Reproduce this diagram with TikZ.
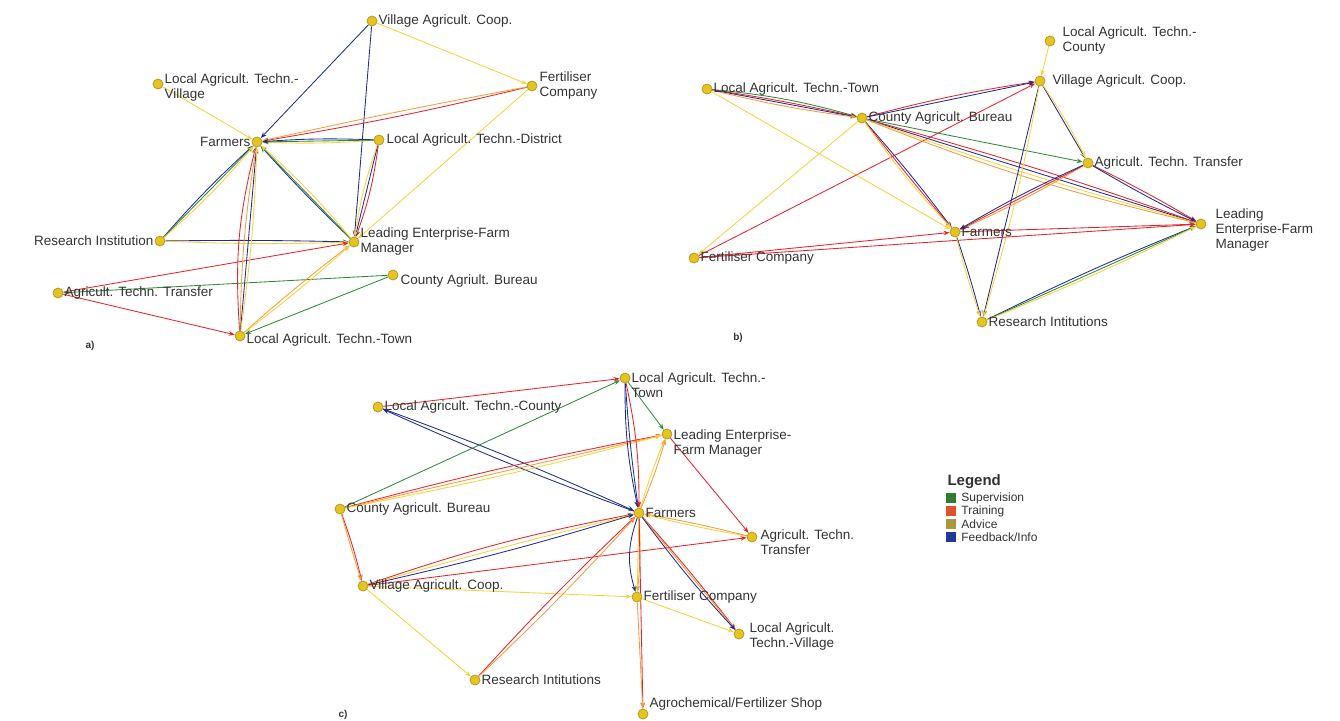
\documentclass[tikz,border=0pt]{standalone}
\usepackage{fontspec}
\setmainfont{Liberation Sans}
\usetikzlibrary{positioning,arrows.meta}
\definecolor{supc}{HTML}{2E8B3C}
\definecolor{trnc}{HTML}{E8222A}
\definecolor{advc}{HTML}{F6D23A}
\definecolor{fbkc}{HTML}{1E2C8C}
\definecolor{orgc}{HTML}{F39C3A}
\definecolor{dotfill}{HTML}{E6C31E}
\definecolor{dotline}{HTML}{B39B2A}
\definecolor{txt}{HTML}{333333}
\definecolor{lsup}{HTML}{2E7D32}
\definecolor{ltrn}{HTML}{E0522B}
\definecolor{ladv}{HTML}{A89A3C}
\definecolor{lfbk}{HTML}{1E3A99}
\pgfdeclarelayer{edges}
\pgfsetlayers{edges,main}
\tikzset{
  dot/.style={circle,fill=dotfill,draw=dotline,line width=0.8pt,inner sep=0pt,minimum size=10pt},
  lbl/.style={font=\fontsize{13.5}{15}\selectfont,text=txt,inner sep=1pt,align=left},
  tag/.style={font=\bfseries\fontsize{10}{12}\selectfont,text=txt},
  net/.style={line width=0.85pt,-{Stealth[length=6pt,width=4.5pt]}},
  sup/.style={draw=supc},
  trn/.style={draw=trnc},
  adv/.style={draw=advc},
  fbk/.style={draw=fbkc},
  org/.style={draw=orgc},
  keybox/.style={minimum size=10pt,inner sep=0pt},
  keytxt/.style={font=\fontsize{12}{13}\selectfont,text=txt,inner sep=1pt},
}
\begin{document}
\begin{tikzpicture}[x=1pt,y=-1pt]
  \useasboundingbox (0,0) rectangle (1340,720);
  % a)
  \begin{scope}
    \node[dot] (aVC) at (372,21) {};
    \node[dot] (aLV) at (158,84) {};
    \node[dot] (aFC) at (532,86) {};
    \node[dot] (aFa) at (257,142) {};
    \node[dot] (aLD) at (379,140) {};
    \node[dot] (aRI) at (160,241) {};
    \node[dot] (aLE) at (354,242) {};
    \node[dot] (aCB) at (393,275) {};
    \node[dot] (aAT) at (58,293) {};
    \node[dot] (aLT) at (240,336) {};
    \node[lbl,right=0pt of aVC] (aVCt) {Village Agricult. Coop.};
    \node[lbl,right=0pt of aLV,yshift=-4pt] (aLVt) {Local Agricult. Techn.-\\Village};
    \node[lbl,right=1pt of aFC] (aFCt) {Fertiliser\\Company};
    \node[lbl,left=0pt of aFa] (aFat) {Farmers};
    \node[lbl,right=1pt of aLD] (aLDt) {Local Agricult. Techn.-District};
    \node[lbl,left=0pt of aRI] (aRIt) {Research Institution};
    \node[lbl,right=0pt of aLE] (aLEt) {Leading Enterprise-Farm\\Manager};
    \node[lbl,right=1pt of aCB,yshift=-6pt] (aCBt) {County Agriult. Bureau};
    \node[lbl,right=0pt of aAT] (aATt) {Agricult. Techn. Transfer};
    \node[lbl,right=0pt of aLT,yshift=-4pt] (aLTt) {Local Agricult. Techn.-Town};
    \node[tag] (aTag) at (90,346) {a)};
    \begin{pgfonlayer}{edges}
      \foreach \s/\t/\k/\b in {aVC/aFa/fbk/0, aVC/aLE/fbk/0, aVC/aFC/adv/0,
          aLV/aFa/adv/0, aFC/aFa/trn/2, aFC/aFa/org/-1, aFC/aLE/adv/0,
          aLD/aFa/adv/3, aLD/aFa/sup/0, aLD/aFa/fbk/-3,
          aLD/aLE/trn/6, aLD/aLE/fbk/0, aLD/aLE/adv/-5,
          aLE/aFa/fbk/2, aLE/aFa/sup/0, aLE/aFa/adv/-4,
          aRI/aFa/fbk/3, aRI/aFa/sup/0, aRI/aFa/adv/-4,
          aRI/aLE/fbk/1, aRI/aLE/adv/-2,
          aAT/aLE/trn/0, aAT/aLT/trn/0, aCB/aAT/sup/0, aCB/aLT/sup/0,
          aLT/aFa/trn/9, aLT/aFa/org/4, aLT/aFa/fbk/0, aLT/aFa/adv/-3,
          aLT/aLE/org/2, aLT/aLE/adv/-2}
        \draw[net,\k] (\s) to[bend left=\b] (\t);
    \end{pgfonlayer}
  \end{scope}
  % b)
  \begin{scope}
    \node[dot] (bLC) at (1050,41) {};
    \node[dot] (bVC) at (1040,81) {};
    \node[dot] (bLT) at (707,89) {};
    \node[dot] (bCB) at (862,118) {};
    \node[dot] (bAT) at (1088,163) {};
    \node[dot] (bLE) at (1201,224) {};
    \node[dot] (bFa) at (955,232) {};
    \node[dot] (bFC) at (694,258) {};
    \node[dot] (bRI) at (982,322) {};
    \node[lbl,right=6pt of bLC] (bLCt) {Local Agricult. Techn.-\\County};
    \node[lbl,right=6pt of bVC] (bVCt) {Village Agricult. Coop.};
    \node[lbl,right=0pt of bLT] (bLTt) {Local Agricult. Techn.-Town};
    \node[lbl,right=0pt of bCB] (bCBt) {County Agricult. Bureau};
    \node[lbl,right=0pt of bAT] (bATt) {Agricult. Techn. Transfer};
    \node[lbl,right=8pt of bLE,yshift=-6pt] (bLEt) {Leading\\Enterprise-Farm\\Manager};
    \node[lbl,right=0pt of bFa] (bFat) {Farmers};
    \node[lbl,right=0pt of bFC] (bFCt) {Fertiliser Company};
    \node[lbl,right=0pt of bRI] (bRIt) {Research Intitutions};
    \node[tag] (bTag) at (738,338) {b)};
    \begin{pgfonlayer}{edges}
      \foreach \s/\t/\k/\b in {bLC/bVC/adv/0,
          bLT/bCB/sup/5, bLT/bCB/trn/2, bLT/bCB/fbk/0, bLT/bCB/org/-3,
          bLT/bFa/adv/0, bCB/bFC/adv/0, bFC/bVC/trn/0,
          bCB/bVC/trn/3, bCB/bVC/fbk/0,
          bCB/bFa/fbk/2, bCB/bFa/trn/-1, bCB/bFa/adv/-4, bCB/bAT/sup/0,
          bCB/bLE/trn/2, bCB/bLE/fbk/0, bCB/bLE/adv/-2, bCB/bLE/org/-4,
          bVC/bRI/fbk/0, bVC/bRI/adv/3, bVC/bAT/fbk/0, bVC/bAT/adv/4,
          bAT/bFa/org/3, bAT/bFa/trn/0, bAT/bFa/fbk/-3,
          bAT/bLE/trn/2, bAT/bLE/fbk/-2,
          bFa/bLE/trn/0, bFC/bFa/trn/0, bFC/bLE/trn/0,
          bFa/bRI/fbk/2, bFa/bRI/adv/-2,
          bRI/bLE/fbk/2, bRI/bLE/sup/0, bRI/bLE/adv/-2}
        \draw[net,\k] (\s) to[bend left=\b] (\t);
    \end{pgfonlayer}
  \end{scope}
  % c)
  \begin{scope}
    \node[dot] (cLT) at (625,378) {};
    \node[dot] (cLC) at (378,407) {};
    \node[dot] (cLE) at (667,434) {};
    \node[dot] (cCB) at (340,509) {};
    \node[dot] (cFa) at (639,513) {};
    \node[dot] (cAT) at (752,537) {};
    \node[dot] (cVC) at (363,586) {};
    \node[dot] (cFC) at (637,597) {};
    \node[dot] (cLV) at (739,634) {};
    \node[dot] (cRI) at (475,680) {};
    \node[dot] (cAS) at (643,714) {};
    \node[lbl,right=0pt of cLT,yshift=-7pt] (cLTt) {Local Agricult. Techn.-\\Town};
    \node[lbl,right=0pt of cLC] (cLCt) {Local Agricult. Techn.-County};
    \node[lbl,right=0pt of cLE,yshift=-10pt] (cLEt) {Leading Enterprise-\\Farm Manager};
    \node[lbl,right=0pt of cCB] (cCBt) {County Agricult. Bureau};
    \node[lbl,right=0pt of cFa] (cFat) {Farmers};
    \node[lbl,right=2pt of cAT,yshift=-5pt] (cATt) {Agricult. Techn.\\Transfer};
    \node[lbl,right=0pt of cVC] (cVCt) {Village Agricult. Coop.};
    \node[lbl,right=0pt of cFC] (cFCt) {Fertiliser Company};
    \node[lbl,right=4pt of cLV,yshift=-2pt] (cLVt) {Local Agricult.\\Techn.-Village};
    \node[lbl,right=0pt of cRI] (cRIt) {Research Intitutions};
    \node[lbl,right=0pt of cAS,yshift=10pt] (cASt) {Agrochemical/Fertilizer Shop};
    \node[tag] (cTag) at (343,715) {c)};
    \begin{pgfonlayer}{edges}
      \foreach \s/\t/\k/\b in {cLC/cLT/trn/0, cFa/cLC/fbk/2, cLC/cFa/fbk/2,
          cCB/cLT/sup/0, cCB/cLE/trn/2, cCB/cLE/org/0, cCB/cLE/adv/-2,
          cCB/cVC/trn/3, cCB/cVC/org/-1,
          cLT/cFa/fbk/-6, cLT/cFa/fbk/-2, cLT/cFa/trn/6,
          cLT/cLE/sup/0, cLE/cAT/trn/0,
          cFa/cLE/adv/3, cFa/cLE/org/-3, cAT/cFa/adv/2, cAT/cFa/org/-2,
          cVC/cFa/trn/4, cVC/cFa/adv/1, cVC/cFa/fbk/-2,
          cVC/cAT/trn/0, cVC/cFC/adv/0, cVC/cRI/adv/0,
          cRI/cFa/trn/2, cRI/cFa/org/-2,
          cFa/cFC/fbk/-18, cFa/cFC/adv/0, cFa/cFC/org/4,
          cFa/cAS/trn/0, cFC/cAS/org/0,
          cFa/cLV/trn/2, cFa/cLV/org/0, cFa/cLV/fbk/-3, cFC/cLV/adv/0}
        \draw[net,\k] (\s) to[bend left=\b] (\t);
    \end{pgfonlayer}
  \end{scope}
  % legend
  \node[font=\bfseries\fontsize{15}{17}\selectfont,text=txt,anchor=west] (key) at (944,482) {Legend};
  \foreach \n/\c/\w [count=\i] in {ks/lsup/Supervision, kt/ltrn/Training, ka/ladv/Advice, kf/lfbk/{Feedback/Info}} {
    \node[keybox,fill=\c] (\n) at (951,485+13*\i) {};
    \node[keytxt,right=4pt of \n] (\n t) {\w};
  }
\end{tikzpicture}
\end{document}
